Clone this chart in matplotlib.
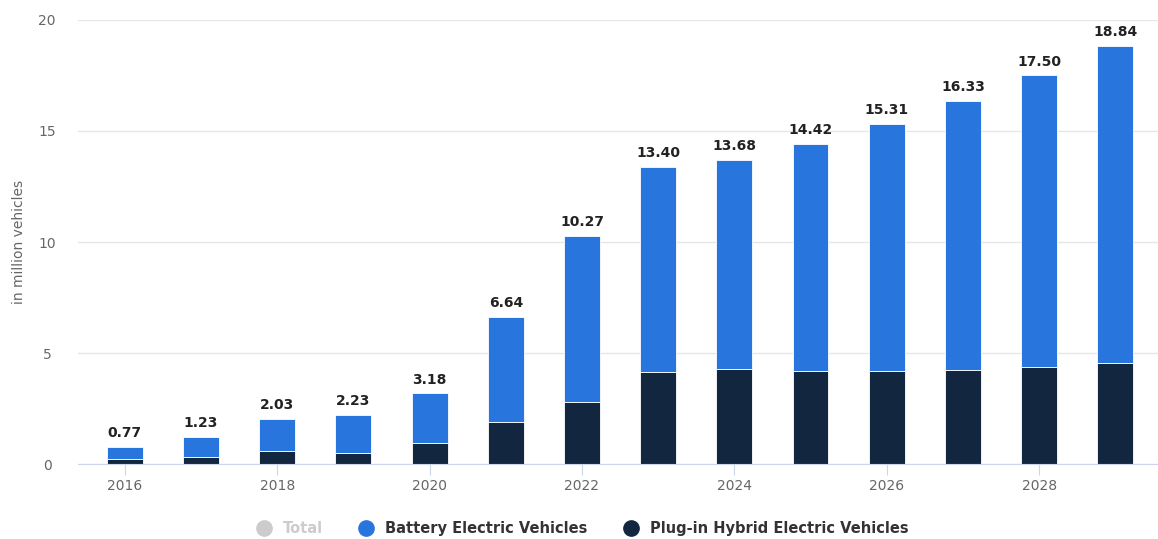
import matplotlib.pyplot as plt
import numpy as np
from matplotlib.lines import Line2D

years = [2016, 2017, 2018, 2019, 2020, 2021, 2022, 2023, 2024, 2025, 2026, 2027, 2028, 2029]
totals = [0.77, 1.23, 2.03, 2.23, 3.18, 6.64, 10.27, 13.40, 13.68, 14.42, 15.31, 16.33, 17.50, 18.84]
phev = [0.24, 0.34, 0.58, 0.50, 0.95, 1.91, 2.80, 4.13, 4.27, 4.20, 4.18, 4.25, 4.39, 4.56]
bev = [t - p for t, p in zip(totals, phev)]

bev_color = '#2876dd'
phev_color = '#12263f'
grey_text = '#666666'

fig = plt.figure(figsize=(11.58, 5.39), dpi=100)
ax = fig.add_axes([0.067, 0.139, 0.933, 0.824])

x = np.array(years)
width = 0.47
ax.bar(x, phev, width, color=phev_color, edgecolor='white', linewidth=0.6, zorder=3)
ax.bar(x, bev, width, bottom=phev, color=bev_color, edgecolor='white', linewidth=0.6, zorder=3)

# total on top of each stacked bar
for xi, t in zip(x, totals):
    ax.annotate(f'{t:.2f}', (xi, t), xytext=(0, 5), textcoords='offset points',
                ha='center', va='bottom', fontsize=10, fontweight='bold', color='#222222')

ax.set_xlim(2015.38, 2029.56)
ax.set_ylim(0, 20)
ax.set_yticks([0, 5, 10, 15, 20])
ax.set_xticks([2016, 2018, 2020, 2022, 2024, 2026, 2028])
ax.grid(axis='y', color='#e6e6e6', linewidth=1, zorder=0)
for side in ['top', 'right', 'left']:
    ax.spines[side].set_visible(False)
ax.spines['bottom'].set_color('#ccd6eb')
ax.spines['bottom'].set_zorder(4)
ax.tick_params(axis='y', length=0, labelsize=10, labelcolor=grey_text, pad=22)
ax.tick_params(axis='x', length=8, color='#ccd6eb', labelsize=10, labelcolor=grey_text, pad=3)
for lbl in ax.get_yticklabels():
    lbl.set_horizontalalignment('center')

ax.set_ylabel('in million vehicles', fontsize=10, color=grey_text)
ax.yaxis.set_label_coords(-0.048, 0.5)

handles = [
    Line2D([], [], marker='o', linestyle='', markersize=11, color='#cccccc'),
    Line2D([], [], marker='o', linestyle='', markersize=11, color=bev_color),
    Line2D([], [], marker='o', linestyle='', markersize=11, color=phev_color),
]
labels = ['Total', 'Battery Electric Vehicles', 'Plug-in Hybrid Electric Vehicles']
leg = fig.legend(handles, labels, loc='center', bbox_to_anchor=(0.5, 0.02), ncol=3,
                 frameon=False, fontsize=10.5, handletextpad=0.3, columnspacing=2.0)
for txt, col in zip(leg.get_texts(), ['#cccccc', '#333333', '#333333']):
    txt.set_color(col)
    txt.set_fontweight('bold')

fig.savefig('out.png', dpi=100)
